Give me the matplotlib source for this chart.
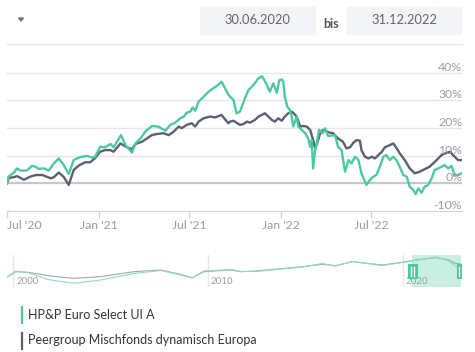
import matplotlib
matplotlib.use("Agg")
import matplotlib.pyplot as plt
import matplotlib.dates as mdates
from matplotlib.patches import Rectangle, Polygon
from matplotlib.lines import Line2D
import pandas as pd

W, H = 475, 352
plt.rcParams['font.family'] = ['Lato', 'DejaVu Sans']

START = pd.Timestamp('2020-06-30')
END = pd.Timestamp('2022-12-31')

fund_name = 'HP&P Euro Select UI A'
peer_name = 'Peergroup Mischfonds dynamisch Europa'
date_from = '30.06.2020'
date_to = '31.12.2022'

# days since 30.06.2020 / performance in %
fund_days = [0, 3, 14, 20, 27, 40, 50, 57, 64, 74, 84, 94, 104, 114, 124, 134, 144, 151,
             161, 171, 177, 187, 197, 208, 214, 221, 229, 238, 244, 251, 258, 268, 278,
             291, 304, 318, 328, 338, 348, 355, 361, 368, 373, 378, 385, 395, 405, 411,
             421, 431, 438, 445, 455, 461, 468, 478, 485, 495, 505, 512, 515, 522, 528,
             532, 535, 542, 547, 552, 555, 558, 563, 568, 572, 575, 582, 585, 592, 599,
             605, 609, 612, 615, 619, 622, 627, 634, 639, 645, 659, 665, 672, 679, 686,
             692, 699, 706, 712, 722, 729, 736, 742, 749, 756, 762, 769, 776, 782, 789,
             796, 803, 809, 816, 821, 826, 833, 839, 846, 853, 859, 866, 873, 879, 886,
             893, 899, 906, 914]
fund_pct = [0.0, 2.4, 3.9, 5.4, 4.6, 4.6, 6.3, 6.0, 5.2, 5.4, 4.6, 7.2, 9.0, 6.6, 3.4, 8.4,
            9.3, 9.6, 9.9, 9.3, 9.6, 13.2, 13.0, 14.2, 13.0, 15.0, 17.4, 13.8, 12.6, 11.1,
            14.4, 16.2, 18.7, 20.7, 20.5, 19.0, 21.1, 21.9, 23.5, 24.1, 25.5, 25.9, 27.4,
            26.2, 29.5, 31.3, 33.1, 33.9, 35.1, 36.7, 34.3, 31.9, 30.1, 25.3, 25.9, 30.7,
            33.7, 35.5, 37.9, 38.7, 37.9, 35.5, 33.1, 34.9, 36.1, 32.7, 37.3, 37.5, 36.7,
            31.3, 27.7, 26.5, 24.1, 20.5, 24.1, 20.5, 19.3, 18.1, 16.2, 13.2, 15.6, 5.4,
            12.0, 14.4, 19.3, 18.1, 19.9, 17.1, 17.4, 13.2, 12.0, 4.2, 8.4, 7.2, 9.6, 8.4,
            3.6, -0.6, 1.2, 2.4, 3.0, 6.0, 9.6, 10.2, 8.4, 9.6, 8.4, 6.0, 3.0, 2.4, -1.2,
            -2.4, -3.9, -1.8, -3.4, -1.2, -0.6, 1.8, 4.8, 5.4, 6.0, 6.6, 5.4, 6.3, 3.0,
            3.0, 3.6]

peer_days = [0, 4, 14, 20, 34, 48, 58, 71, 78, 88, 94, 104, 114, 124, 134, 144, 157, 167,
             177, 187, 197, 208, 214, 228, 241, 251, 258, 271, 281, 291, 301, 314, 325,
             335, 345, 351, 361, 371, 378, 385, 395, 408, 418, 431, 438, 445, 448, 455,
             461, 468, 475, 482, 488, 498, 505, 512, 518, 525, 532, 538, 545, 552, 558,
             565, 572, 579, 582, 589, 595, 602, 609, 615, 619, 623, 629, 635, 642, 649,
             655, 665, 675, 682, 689, 696, 702, 709, 712, 719, 726, 733, 739, 746, 753,
             759, 769, 776, 783, 789, 799, 809, 819, 829, 839, 849, 863, 873, 880, 890,
             896, 906, 914]
peer_pct = [0.0, 2.0, 2.2, 2.6, 1.3, 2.5, 3.0, 3.0, 2.5, 1.8, 2.2, 3.9, 2.3, -0.6, 4.8,
            6.4, 7.6, 7.6, 9.1, 11.4, 12.0, 12.0, 11.4, 14.4, 13.0, 12.3, 14.2, 15.0, 16.2,
            17.4, 17.8, 18.1, 17.4, 18.7, 20.5, 19.9, 21.1, 21.7, 20.5, 22.3, 23.5, 24.1,
            23.8, 24.7, 23.1, 21.7, 22.3, 22.6, 21.9, 21.1, 21.4, 22.3, 21.9, 22.9, 24.1,
            24.7, 25.3, 24.1, 22.9, 22.3, 23.5, 22.6, 24.1, 25.3, 25.9, 24.7, 24.1, 20.5,
            20.7, 20.5, 19.3, 15.6, 12.6, 14.4, 18.1, 19.3, 18.7, 18.3, 18.1, 16.2, 15.0,
            12.6, 13.0, 14.7, 15.6, 15.4, 12.0, 9.6, 9.0, 9.6, 9.0, 10.2, 11.4, 13.0, 13.8,
            14.4, 12.6, 10.8, 8.4, 5.4, 3.6, 4.2, 5.1, 6.0, 8.4, 10.2, 10.8, 11.4, 10.2,
            8.4, 8.4]

# navigator (long history, relative level)
nav_years = [1999.73, 2000.15, 2000.75, 2001.44, 2001.78, 2002.29, 2003.14, 2004.5,
             2006.2, 2007.6, 2008.6, 2009.2, 2009.8, 2011.2, 2011.7, 2012.46, 2014.86,
             2015.88, 2016.56, 2017.42, 2018.96, 2019.98, 2020.67, 2021.7, 2022.37,
             2022.7, 2023.0]
nav_fund = [10.3, 16.0, 14.5, 10.0, 7.5, 6.0, 3.7, 7.0, 13.5, 16.5, 12.0, 9.0, 16.0, 17.5,
            15.5, 15.5, 20.0, 23.5, 21.0, 25.5, 21.5, 24.5, 26.5, 30.0, 26.0, 21.0, 19.5]
nav_peer = [10.3, 15.3, 14.7, 12.7, 11.3, 10.3, 8.7, 10.3, 15.3, 17.0, 12.7, 9.3, 15.3,
            17.0, 15.3, 16.0, 20.3, 22.7, 21.3, 25.3, 22.0, 24.7, 27.0, 29.3, 27.0, 23.7,
            22.7]
nav_ticks = [2000, 2010, 2020]

GREEN = '#4cc9a0'
SLATE = '#5b6173'
GRID = '#e6e6e6'
LABEL = '#9a9ba5'


def px(x, y):
    return x / W, 1 - y / H


def rect(x0, y0, x1, y1):
    return [x0 / W, 1 - y1 / H, (x1 - x0) / W, (y1 - y0) / H]


def year_to_date(y):
    base = pd.Timestamp(int(y), 1, 1)
    return base + pd.Timedelta(days=(y - int(y)) * 365.25)


fig = plt.figure(figsize=(W / 100, H / 100), dpi=100)

# ---- header
fig.patches.append(Polygon([px(18.5, 18), px(23.5, 18), px(21, 21)], closed=True,
                           transform=fig.transFigure, color='#777777'))
for x0, x1, txt in [(200, 315, date_from), (347, 461, date_to)]:
    fig.patches.append(Rectangle(px(x0, 34), (x1 - x0) / W, 27 / H,
                                 transform=fig.transFigure, color='#f2f4f8'))
    fig.text(*px((x0 + x1) / 2, 20.5), txt, ha='center', va='center',
             fontsize=9.3, color='#666666')
fig.text(*px(331, 24), 'bis', ha='center', va='center', fontsize=9,
         color='#555555', fontweight='bold')
fig.lines.append(Line2D([7 / W, 462 / W], [1 - 44 / H] * 2, transform=fig.transFigure,
                        color='#e9e9ee', lw=1))

# ---- main chart
ax = fig.add_axes(rect(7, 59, 462, 211))
fund_dates = START + pd.to_timedelta(fund_days, unit='D')
peer_dates = START + pd.to_timedelta(peer_days, unit='D')

for v in [10, 20, 30, 40]:
    ax.axhline(v, color=GRID, lw=1, zorder=1)
ax.axhline(0, color='#c8c8c8', lw=1.6, zorder=1)
ax.plot(peer_dates, peer_pct, color=SLATE, lw=1.7, zorder=3)
ax.plot(fund_dates, fund_pct, color=GREEN, lw=1.7, zorder=4)

ax.set_xlim(START, END)
ax.set_ylim(-10, 44.9)
for s in ['top', 'left', 'right']:
    ax.spines[s].set_visible(False)
ax.spines['bottom'].set_color('#ccd6eb')
ax.set_yticks([])
for v in [-10, 0, 10, 20, 30, 40]:
    ax.text(1.0, v, f'{v}%', transform=ax.get_yaxis_transform(), ha='right',
            va='bottom', fontsize=8.8, color=LABEL, zorder=5)

xt = pd.to_datetime(['2020-07-01', '2021-01-01', '2021-07-01', '2022-01-01', '2022-07-01'])
ax.set_xticks(xt)
ax.set_xticklabels(["Jul '20", "Jan '21", "Jul '21", "Jan '22", "Jul '22"])
ax.tick_params(axis='x', direction='out', length=5, width=1, color='#ccd6eb',
               labelsize=8.8, labelcolor=LABEL, pad=1.5)
ax.get_xticklabels()[0].set_horizontalalignment('left')
ax.patch.set_alpha(0)

# ---- navigator
nav = fig.add_axes(rect(7, 255, 462, 287))
nav_dates = [year_to_date(y) for y in nav_years]
nav.plot(nav_dates, nav_peer, color='#a4a6ae', lw=0.8)
nav.plot(nav_dates, nav_fund, color='#8fdcc3', lw=0.8)
nav.set_xlim(year_to_date(1999.7), year_to_date(2023.05))
nav.set_ylim(0, 32)
for s in nav.spines.values():
    s.set_visible(False)
nav.set_xticks([])
nav.set_yticks([])
for yr in nav_ticks:
    d = pd.Timestamp(yr, 1, 1)
    nav.axvline(d, color=GRID, lw=1, zorder=0)
    nav.text(d + pd.Timedelta(days=60), 0.18, str(yr), transform=nav.get_xaxis_transform(),
             ha='left', va='center', fontsize=7, color='#a0a0a0')
nav.axvspan(START, END, color=GREEN, alpha=0.3, lw=0, zorder=0)
hw = pd.Timedelta(days=165)
for d in [START, END]:
    x0 = mdates.date2num(d - hw / 2)
    nav.add_patch(Rectangle((x0, 0.27), hw / pd.Timedelta(days=1), 0.44,
                            transform=nav.get_xaxis_transform(), facecolor=GREEN,
                            edgecolor=GREEN, lw=0.8, zorder=5, clip_on=True))
    for off in [-0.18, 0.18]:
        xl = mdates.date2num(d + hw * off)
        nav.plot([xl, xl], [0.35, 0.63], transform=nav.get_xaxis_transform(),
                 color='white', lw=1, zorder=6)

# ---- legend
for yc, col, name in [(315, GREEN, fund_name), (340.5, SLATE, peer_name)]:
    fig.lines.append(Line2D([22 / W] * 2, [1 - (yc - 8) / H, 1 - (yc + 8) / H],
                            transform=fig.transFigure, color=col, lw=1.6))
    fig.text(*px(28, yc), name, ha='left', va='center', fontsize=9, color='#333333')

fig.savefig('out.png', dpi=100)
